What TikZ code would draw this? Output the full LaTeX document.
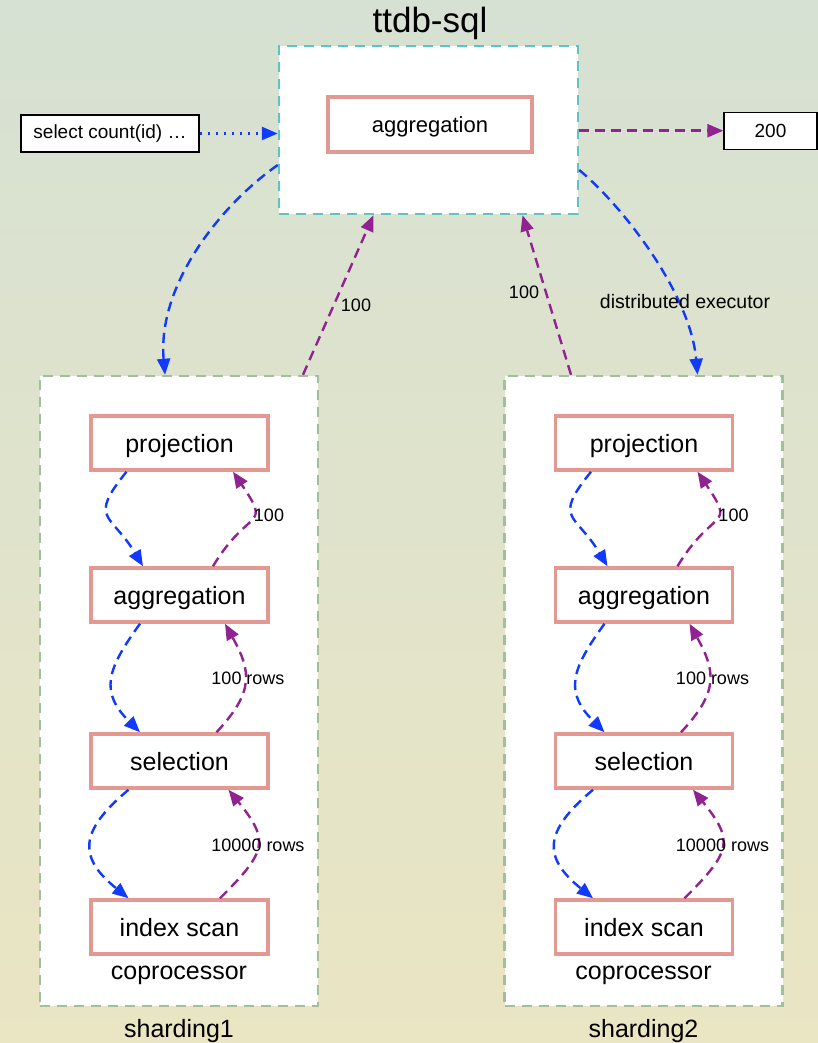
\documentclass[tikz,border=0pt]{standalone}
\usepackage{fontspec}
\setmainfont{Liberation Sans}
\usetikzlibrary{arrows.meta,calc}
\definecolor{bgtop}{RGB}{214,225,211}
\definecolor{bgbot}{RGB}{234,229,195}
\definecolor{opline}{RGB}{227,152,146}
\definecolor{tealline}{RGB}{92,196,198}
\definecolor{greenline}{RGB}{160,192,156}
\definecolor{reqblue}{RGB}{18,58,252}
\definecolor{respurple}{RGB}{145,35,145}
\tikzset{
  opbox/.style={draw=opline, line width=3.5pt, fill=white, minimum width=177pt,
    minimum height=54pt, inner sep=0pt, font=\fontsize{25}{30}\selectfont,
    text height=20.5pt, text depth=1pt},
  plainbox/.style={draw=black, line width=1.3pt, fill=white, inner sep=0pt,
    font=\fontsize{19}{23}\selectfont},
  shardbox/.style={draw=greenline, line width=2.5pt, dash pattern=on 10pt off 7pt,
    fill=white, minimum width=278pt, minimum height=630pt, inner sep=0pt},
  sqlbox/.style={draw=tealline, line width=2.5pt, dash pattern=on 10pt off 7pt,
    fill=white, minimum width=299pt, minimum height=168pt, inner sep=0pt},
  tip/.style={-{Triangle[length=16pt,width=13pt]}},
  req/.style={tip, draw=reqblue, line width=2.4pt, dash pattern=on 10pt off 6pt},
  res/.style={tip, draw=respurple, line width=2.4pt, dash pattern=on 10pt off 6pt},
  query/.style={tip, draw=reqblue, line width=2.6pt, dash pattern=on 2.5pt off 5.5pt},
  elabel/.style={font=\fontsize{18}{22}\selectfont, inner sep=0pt},
  clabel/.style={font=\fontsize{25}{30}\selectfont, inner sep=0pt},
}
\begin{document}
\begin{tikzpicture}[x=1pt,y=-1pt]
  % background
  \fill[top color=bgtop, bottom color=bgbot] (0,0) rectangle (818,1043);
  \useasboundingbox (0,0) rectangle (818,1043);

  % front end
  \node[clabel, font=\fontsize{35}{42}\selectfont] (title) at (430,23) {ttdb-sql};
  \node[sqlbox] (sql) at (428.5,130) {};
  \node[opbox, minimum width=204pt, minimum height=55pt, font=\fontsize{22}{26}\selectfont,
    text height=18pt, text depth=1pt] (top) at (430,124.5) {aggregation};
  \node[plainbox, minimum width=178pt, minimum height=37pt] (query) at (110,133.5) {select count(id) \dots};
  \node[plainbox, minimum width=93pt, minimum height=37pt] (result) at (770.5,130.7) {200};

  % shards
  \foreach \s/\cx in {1/179,2/643.5}{
    \node[shardbox] (sh\s) at (\cx,691) {};
    \node[opbox] (p\s) at (\cx+0.5,443) {projection};
    \node[opbox] (a\s) at (\cx+0.5,595) {aggregation};
    \node[opbox] (s\s) at (\cx+0.5,761) {selection};
    \node[opbox] (i\s) at (\cx+0.5,927) {index scan};
    \node[clabel] (cop\s) at (\cx,975) {coprocessor};
    \node[clabel] (name\s) at (\cx,1031) {sharding\s};

    % requests go down
    \draw[req] ([xshift=-53pt]p\s.south) .. controls +(231:62pt) and +(121:62pt) .. ([xshift=-36.5pt]a\s.north);
    \draw[req] ([xshift=-39.5pt]a\s.south) .. controls +(234:57pt) and +(135:57pt) .. ([xshift=-39.5pt]s\s.north);
    \draw[req] ([xshift=-51pt]s\s.south) .. controls +(220:65pt) and +(141:65pt) .. ([xshift=-51pt]i\s.north);

    % rows come back up
    \draw[res] ([xshift=33.5pt]a\s.north) .. controls +(59:70pt) and +(-56:70pt) .. ([xshift=53.5pt]p\s.south);
    \draw[res] ([xshift=37pt]s\s.north) .. controls +(47:55pt) and +(-61:55pt) .. ([xshift=45.5pt]a\s.south);
    \draw[res] ([xshift=40.5pt]i\s.north) .. controls +(45:66pt) and +(-51:66pt) .. ([xshift=49pt]s\s.south);

    \node[elabel] (l1\s) at ($(a\s.north)!0.5!(p\s.south)+(89.5,-4)$) {100};
    \node[elabel] (l2\s) at ($(s\s.north)!0.5!(a\s.south)+(68.5,0)$) {100 rows};
    \node[elabel] (l3\s) at ($(i\s.north)!0.5!(s\s.south)+(78.5,1)$) {10000 rows};
  }

  % query in, result out
  \draw[query] (query.east) -- (query.east -| sql.west);
  \draw[res] (sql.east |- result.west) -- (result.west);

  % distributed execution
  \draw[req] ([yshift=-35pt]sql.west) .. controls +(215:70pt) and +(95:90pt) .. ([xshift=-14pt]sh1.north);
  \draw[req] ([yshift=-40pt]sql.east) .. controls +(-40:60pt) and +(95:80pt) .. ([xshift=54pt]sh2.north);
  \node[elabel, font=\fontsize{19.5}{23}\selectfont] (dexec) at (685,302) {distributed executor};

  \draw[res] ([xshift=124pt]sh1.north) -- ([xshift=-55pt]sql.south);
  \node[elabel] (r1) at (356,305) {100};
  \draw[res] ([xshift=-72.5pt]sh2.north) -- ([xshift=94pt]sql.south);
  \node[elabel] (r2) at (524,292) {100};
\end{tikzpicture}
\end{document}
